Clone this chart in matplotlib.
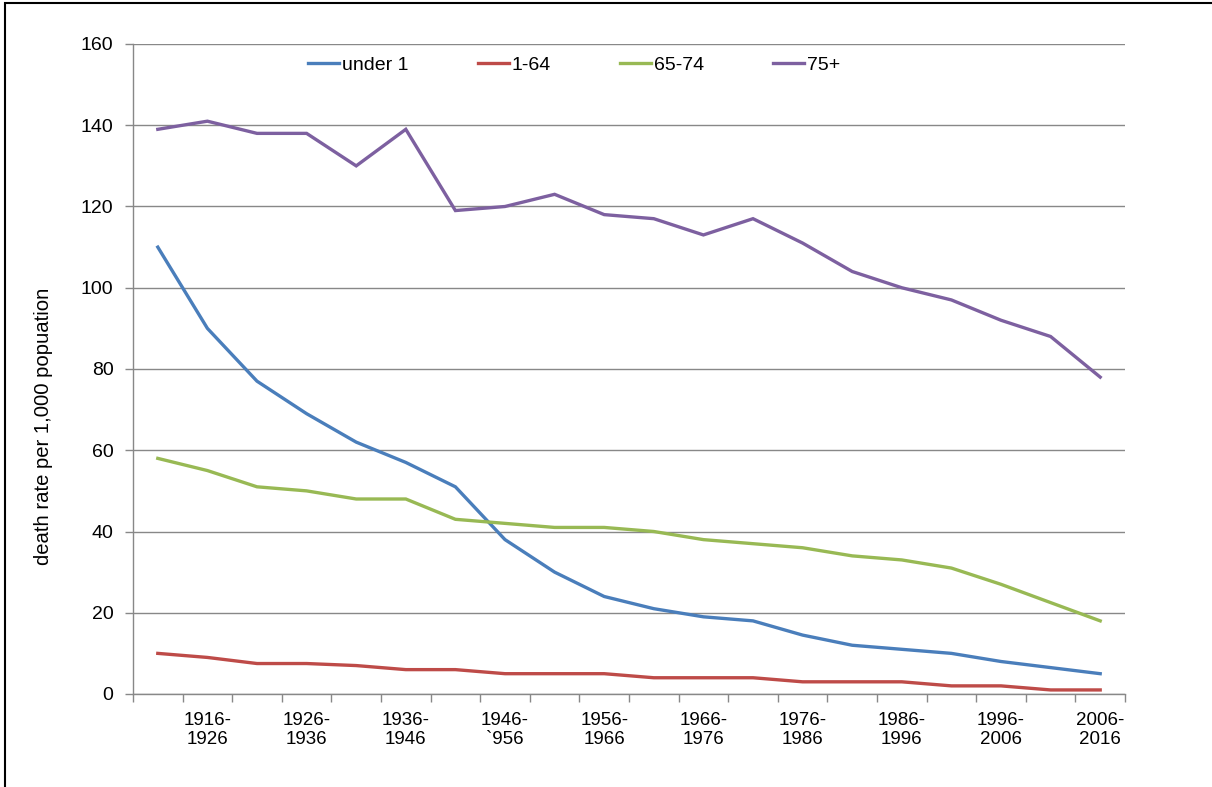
import matplotlib
matplotlib.use("Agg")
import matplotlib.pyplot as plt
from matplotlib.patches import Rectangle

plt.rcParams['font.family'] = ['Liberation Sans', 'DejaVu Sans']

periods = ["", "1916-\n1926", "", "1926-\n1936", "", "1936-\n1946", "", "1946-\n`956",
           "", "1956-\n1966", "", "1966-\n1976", "", "1976-\n1986", "", "1986-\n1996",
           "", "1996-\n2006", "", "2006-\n2016"]
under_1 = [110, 90, 77, 69, 62, 57, 51, 38, 30, 24, 21, 19, 18, 14.5, 12, 11, 10, 8, 6.5, 5]
age_1_64 = [10, 9, 7.5, 7.5, 7, 6, 6, 5, 5, 5, 4, 4, 4, 3, 3, 3, 2, 2, 1, 1]
age_65_74 = [58, 55, 51, 50, 48, 48, 43, 42, 41, 41, 40, 38, 37, 36, 34, 33, 31, 27, 22.5, 18]
age_75_plus = [139, 141, 138, 138, 130, 139, 119, 120, 123, 118, 117, 113, 117, 111, 104, 100, 97, 92, 88, 78]
series_names = ["under 1", "1-64", "65-74", "75+"]
colors = ["#4A7EBB", "#BE4B48", "#98B954", "#7D60A0"]
y_ticks = [0, 20, 40, 60, 80, 100, 120, 140, 160]

W, H = 1212, 787
fig = plt.figure(figsize=(W / 100, H / 100), dpi=100)
ax = fig.add_axes([133 / W, 1 - 694 / H, (1125 - 133) / W, (694 - 44) / H])

x = list(range(len(periods)))
lines = []
for vals, name, c in zip([under_1, age_1_64, age_65_74, age_75_plus], series_names, colors):
    ln, = ax.plot(x, vals, color=c, lw=2.4, label=name, solid_joinstyle='miter')
    lines.append(ln)

ax.set_xlim(-0.5, len(periods) - 0.5)
ax.set_ylim(0, 160)
ax.set_yticks(y_ticks)
ax.set_yticklabels([str(v) for v in y_ticks], fontsize=14)
ax.yaxis.grid(True, color="#888888", lw=1.0)
ax.set_axisbelow(True)

ax.set_xticks(x)
ax.set_xticklabels(periods, fontsize=13.5, linespacing=1.15)
ax.set_xticks([i - 0.5 for i in range(len(periods) + 1)], minor=True)
ax.tick_params(axis='x', which='major', length=0, pad=13)
ax.tick_params(axis='x', which='minor', length=6, color="#888888", width=1, direction='out')
ax.tick_params(axis='y', length=6, color="#888888", width=1, pad=8)

for s in ['top', 'right']:
    ax.spines[s].set_visible(False)
for s in ['left', 'bottom']:
    ax.spines[s].set_color("#888888")
    ax.spines[s].set_linewidth(1.0)

ax.set_ylabel("death rate per 1,000 popuation", fontsize=14.6, va='center')
ax.yaxis.set_label_coords((44 - 133) / (1125 - 133), (694 - 426) / 650)

fig.legend(handles=lines, labels=series_names, loc='center left',
           bbox_to_anchor=(308 / W, 1 - 65 / H), ncol=4, frameon=False,
           fontsize=14, handlelength=1.6, handletextpad=0.15, columnspacing=3.55,
           borderpad=0, borderaxespad=0)

fig.patches.append(Rectangle((5 / W, -0.1), 1.2, 1 - 3 / H + 0.1, transform=fig.transFigure,
                             fill=False, edgecolor='black', lw=1.5))

fig.savefig("out.png", dpi=100)
